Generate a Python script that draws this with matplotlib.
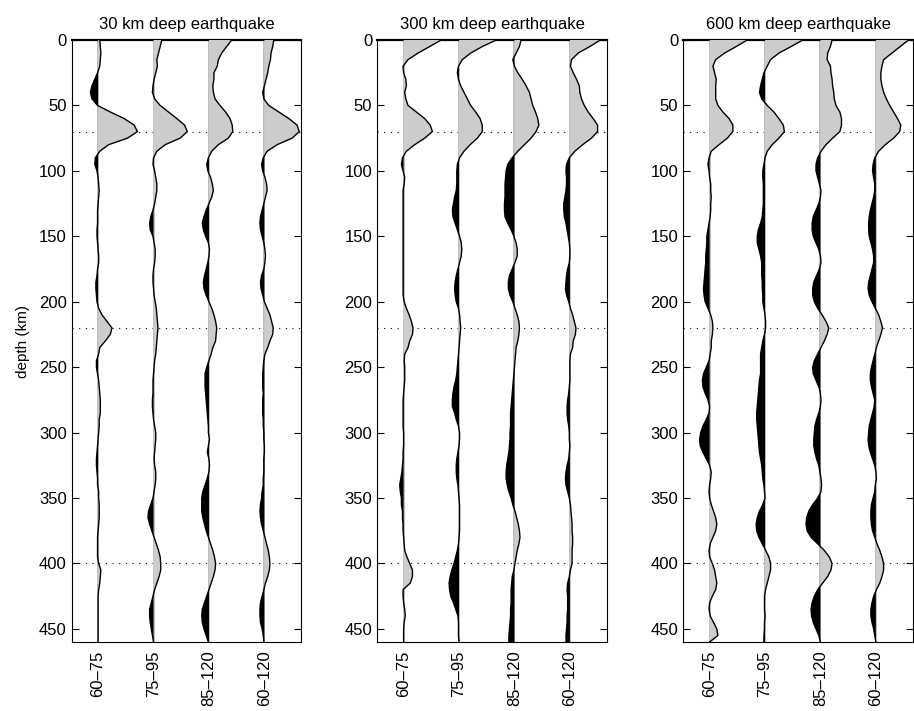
import numpy as np
import matplotlib.pyplot as plt

plt.rcParams['font.family'] = ['Liberation Sans', 'DejaVu Sans']
plt.rcParams['font.size'] = 12

# depth samples (km), one value every 5 km
depth = np.arange(0, 461, 5)

titles = ['30 km deep earthquake', '300 km deep earthquake', '600 km deep earthquake']
bands = ['60–75', '75–95', '85–120', '60–120']
markers = [70, 220, 400]

# amplitudes, in hundredths of the trace spacing
# 30 km deep earthquake
q30_a = [3, 4, 5, 4, 3, -1, -6, -11, -14, -11,
         -1, 22, 47, 65, 71, 53, 19, 3, -5, -6,
         -2, 0, 1, 2, 1, 0, -1, -1, -1, -2,
         -2, -1, 0, 1, 1, -1, -2, -4, -4, -3,
         -2, 1, 7, 16, 25, 22, 13, 3, 1, -3,
         -3, -1, 1, 2, 3, 4, 4, 4, 2, 2,
         1, 0, -1, -2, -3, -3, -2, -1, -1, 1,
         1, 2, 2, 2, 1, 0, -1, -1, -1, -1,
         1, 5, 4, 3, 1, 0, 0, 0, 0, 0,
         0, 0, 0]
q30_b = [15, 12, 9, 6, 7, 4, 1, -1, -2, 2,
         12, 27, 42, 56, 61, 48, 21, 6, 0, -1,
         2, 4, 6, 6, 4, 2, -1, -5, -7, -6,
         -1, 1, 3, 3, 2, 0, -1, -1, 0, 1,
         3, 5, 6, 7, 8, 7, 6, 5, 4, 2,
         1, 0, -1, -1, -1, -2, -2, -1, 0, 2,
         4, 4, 3, 2, 1, 2, 4, 4, 3, 1,
         -1, -5, -9, -10, -7, -3, 1, 5, 9, 12,
         13, 13, 10, 6, 2, -1, -4, -7, -7, -6,
         -4, -2, 0]
q30_c = [41, 32, 23, 17, 15, 9, 9, 7, 8, 11,
         20, 30, 38, 42, 43, 35, 17, 5, -1, -4,
         -2, 3, 6, 8, 5, 0, -5, -9, -12, -10,
         -6, -1, 1, 0, -2, -5, -8, -10, -9, -5,
         0, 5, 9, 12, 14, 13, 12, 7, 4, 0,
         -4, -7, -7, -7, -6, -5, -4, -3, -2, -1,
         -1, 1, -1, -3, 0, 1, 0, -3, -7, -11,
         -13, -13, -13, -11, -8, -5, -1, 3, 7, 10,
         12, 11, 8, 4, 0, -4, -8, -12, -13, -12,
         -9, -5, -1]
q30_d = [17, 15, 12, 11, 8, 6, 3, 0, -3, -1,
         8, 26, 44, 59, 63, 50, 23, 5, -2, -5,
         -3, 1, 4, 5, 2, -1, -4, -7, -8, -7,
         -4, -1, 1, 2, 1, -1, -5, -7, -6, -3,
         0, 5, 10, 13, 16, 15, 10, 6, 1, -1,
         -2, -3, -3, -3, -2, -3, -3, -3, -2, -2,
         -1, -1, 0, 0, -1, -1, -1, -2, -2, -4,
         -5, -7, -8, -7, -5, -2, 1, 4, 7, 9,
         10, 9, 6, 2, -1, -4, -7, -8, -8, -7,
         -4, -2, -1]

# 300 km deep earthquake
q300_a = [68, 47, 26, 8, -1, 0, 4, 5, 2, 4,
          8, 23, 38, 48, 52, 38, 20, 5, -2, -4,
          -1, 2, 1, -1, -1, -1, -1, -1, -1, -1,
          -1, -1, -1, -1, -1, -1, -1, -1, -1, -1,
          1, 5, 10, 14, 17, 16, 11, 8, 2, 1,
          2, 2, 2, 1, 0, -1, -1, -1, -1, -1,
          0, 0, 0, -1, -1, -2, -3, -5, -7, -6,
          -4, -4, -2, -2, -1, -1, 0, 1, 2, 6,
          11, 16, 16, 12, -1, -1, 0, 2, 3, 1,
          0, 0, 0]
q300_b = [67, 42, 21, 6, -1, -3, -1, 3, 9, 15,
          21, 30, 38, 42, 42, 33, 20, 9, 1, -3,
          -4, -4, -4, -5, -8, -10, -12, -11, -7, -3,
          1, 4, 5, 4, 1, -2, -5, -7, -8, -7,
          -5, -1, 1, 2, 3, 2, 1, 0, -1, -2,
          -3, -4, -6, -9, -11, -12, -12, -8, -5, -1,
          1, 1, 0, -2, -4, -5, -5, -4, -2, -1,
          0, 1, 1, 1, 1, 1, 0, -1, -3, -6,
          -9, -13, -16, -18, -17, -15, -10, -6, -2, -1,
          -1, -1, 0]
q300_c = [12, 9, 3, -3, 0, 6, 14, 21, 27, 30,
          33, 38, 42, 44, 39, 30, 18, 6, -4, -12,
          -15, -16, -17, -17, -17, -18, -18, -17, -12, -6,
          -1, 3, 5, 5, 1, -4, -9, -11, -11, -8,
          -3, 1, 5, 8, 9, 8, 6, 3, 2, 1,
          0, -1, -2, -3, -4, -5, -6, -7, -7, -7,
          -8, -8, -9, -10, -12, -14, -15, -15, -13, -10,
          -6, -3, 1, 4, 7, 9, 10, 8, 5, 3,
          1, -1, -4, -5, -6, -6, -6, -7, -7, -8,
          -9, -10, -10]
q300_d = [55, 36, 15, 3, 1, 6, 12, 17, 18, 21,
          26, 33, 42, 50, 50, 39, 23, 9, -1, -6,
          -7, -6, -6, -7, -9, -11, -11, -10, -7, -5,
          -3, -1, 0, 0, -1, -4, -6, -7, -8, -6,
          -2, 1, 5, 8, 11, 10, 6, 5, 1, 0,
          0, 0, 0, -1, -2, -4, -5, -5, -4, -2,
          -1, -1, 0, -1, -2, -5, -7, -8, -7, -4,
          -1, 1, 2, 3, 4, 4, 5, 5, 4, 4,
          4, 1, -1, -4, -5, -4, -4, -4, -5, -5,
          -6, -7, -7]

# 600 km deep earthquake
q600_a = [68, 48, 27, 11, 6, 9, 12, 11, 11, 11,
          15, 24, 35, 42, 42, 32, 17, 3, -1, -3,
          -1, 0, 2, 2, 3, 2, 2, 1, -1, -3,
          -5, -5, -6, -7, -7, -8, -9, -10, -11, -10,
          -8, -3, 2, 5, 6, 5, 3, 3, 1, -1,
          -6, -11, -13, -12, -8, -3, 0, -1, -6, -12,
          -16, -18, -17, -12, -6, 0, 3, 2, 0, -1,
          0, 3, 7, 11, 13, 11, 6, 1, -1, 0,
          5, 9, 11, 13, 11, 5, 0, -1, 1, 7,
          13, 15, 0]
q600_b = [68, 47, 25, 10, 4, -2, -5, -8, -10, -6,
          4, 16, 25, 33, 35, 25, 13, 4, 0, -2,
          -4, -4, -3, -3, -3, -3, -4, -5, -8, -12,
          -14, -14, -11, -8, -6, -6, -6, -5, -5, -4,
          -4, -2, 0, 1, 1, -1, -4, -6, -8, -8,
          -8, -8, -10, -11, -12, -13, -14, -15, -15, -14,
          -13, -12, -11, -10, -8, -6, -5, -4, -2, -1,
          0, -4, -10, -14, -16, -15, -11, -5, 1, 7,
          10, 10, 7, 4, 1, -1, -1, -1, 0, -1,
          -1, -2, -2]
q600_c = [21, 18, 13, 12, 18, 19, 21, 22, 24, 25,
          28, 35, 38, 38, 35, 22, 10, 1, -5, -8,
          -8, -5, -2, 1, 0, -3, -8, -13, -15, -15,
          -13, -8, -3, 0, 1, -2, -7, -12, -14, -14,
          -11, -5, 3, 10, 15, 12, 7, 1, -5, -11,
          -14, -13, -8, -3, 0, 1, 0, -3, -7, -10,
          -11, -12, -12, -10, -7, -3, -1, 1, 2, 1,
          -5, -14, -21, -25, -26, -24, -17, -5, 7, 16,
          21, 19, 13, 4, -5, -11, -15, -17, -16, -13,
          -8, -3, 0]
q600_d = [59, 44, 29, 14, 11, 9, 9, 11, 14, 19,
          25, 32, 39, 45, 43, 32, 17, 5, -2, -5,
          -6, -4, -2, -2, -4, -7, -10, -12, -13, -13,
          -12, -9, -6, -4, -4, -7, -10, -13, -14, -12,
          -7, -1, 5, 9, 12, 9, 5, 1, -2, -5,
          -8, -10, -10, -8, -5, -2, -3, -6, -9, -12,
          -13, -14, -13, -10, -6, -2, 0, 1, -1, -2,
          -5, -8, -9, -9, -8, -6, -2, 2, 7, 11,
          14, 14, 11, 7, 1, -4, -7, -9, -9, -7,
          -4, -2, 0]

panels = [[q30_a, q30_b, q30_c, q30_d],
          [q300_a, q300_b, q300_c, q300_d],
          [q600_a, q600_b, q600_c, q600_d]]

fig = plt.figure(figsize=(9.14, 7.11), dpi=100)
lefts = [71.5 / 914, 377 / 914, 683 / 914]
for k, traces in enumerate(panels):
    ax = fig.add_axes([lefts[k], 1 - 642 / 711, 230 / 914, 602 / 711])
    for m in markers:
        ax.axhline(m, color='k', lw=0.8, ls=(0, (1, 5)), zorder=1)
    for i, tr in enumerate(traces):
        base = i + 1
        amp = np.array(tr) / 100.0
        ax.axvline(base, color='0.72', lw=1.3, zorder=2)
        ax.fill_betweenx(depth, base, base + amp, where=amp >= 0, interpolate=True,
                         color='#cccccc', lw=0, zorder=3)
        ax.fill_betweenx(depth, base, base + amp, where=amp <= 0, interpolate=True,
                         color='k', lw=0, zorder=3)
        ax.plot(base + amp, depth, color='k', lw=1.0, zorder=4)
    ax.set_xlim(0.52, 4.67)
    ax.set_ylim(460, 0)
    ax.set_yticks(np.arange(0, 451, 50))
    ax.set_xticks([1, 2, 3, 4])
    ax.set_xticklabels(bands, rotation=90)
    ax.tick_params(axis='y', direction='in', right=True, length=5, labelsize=12)
    ax.tick_params(axis='x', direction='in', length=0, labelsize=12, pad=6)
    ax.spines['top'].set_linewidth(1.6)
    ax.set_title(titles[k], fontsize=12, pad=8)
    if k == 0:
        ax.set_ylabel('depth (km)', fontsize=11, labelpad=6)

plt.savefig('out.png', dpi=100)
